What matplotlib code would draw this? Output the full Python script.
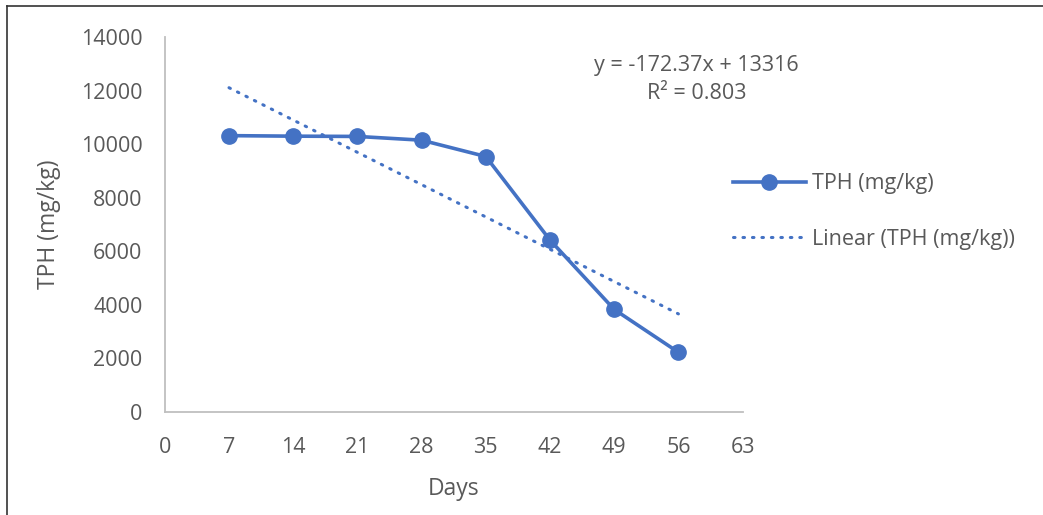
import matplotlib.pyplot as plt
from matplotlib.lines import Line2D
import numpy as np

# TPH readings over the incubation period
days = [7, 14, 21, 28, 35, 42, 49, 56]
tph = [10320, 10300, 10290, 10150, 9540, 6420, 3830, 2230]

# linear trend as reported on the chart
slope = -172.37
intercept = 13316
r_squared = 0.803

x_ticks = [0, 7, 14, 21, 28, 35, 42, 49, 56, 63]
y_ticks = [0, 2000, 4000, 6000, 8000, 10000, 12000, 14000]

blue = '#4472C4'
grey_text = '#595959'
plt.rcParams['font.family'] = ['Open Sans', 'DejaVu Sans']

fig = plt.figure(figsize=(10.43, 5.15), dpi=100)
ax = fig.add_axes([0.158, 0.2, 0.554, 0.728])

ax.plot(days, tph, color=blue, linewidth=2.6, marker='o', markersize=11,
        label='TPH (mg/kg)', zorder=3)

trend_x = np.array([days[0], days[-1]])
trend_y = slope * trend_x + intercept
ax.plot(trend_x, trend_y, color=blue, linewidth=2.2, linestyle=(0, (0.5, 2.6)),
        dash_capstyle='round', label='Linear (TPH (mg/kg))', zorder=2)

ax.set_xlim(0, 63)
ax.set_ylim(0, 14000)
ax.set_xticks(x_ticks)
ax.set_yticks(y_ticks)
ax.tick_params(axis='y', length=0, labelsize=15.5, colors=grey_text, pad=16)
ax.tick_params(axis='x', length=0, labelsize=15.5, colors=grey_text, pad=18)

for side in ['top', 'right']:
    ax.spines[side].set_visible(False)
for side in ['left', 'bottom']:
    ax.spines[side].set_color('#BFBFBF')
    ax.spines[side].set_linewidth(1.3)

ax.set_xlabel('Days', fontsize=16.5, color=grey_text, labelpad=14)
ax.set_ylabel('TPH (mg/kg)', fontsize=16.5, color=grey_text, labelpad=14)

eq = f'y = {slope}x + {intercept}\nR² = {r_squared}'
fig.text(0.668, 0.845, eq, fontsize=15.5, color=grey_text, ha='center',
         va='center', linespacing=1.45)

fig.legend(loc='center left', bbox_to_anchor=(0.684, 0.589), frameon=False,
           fontsize=15.5, labelcolor=grey_text, handlelength=3.4,
           handletextpad=0.3, labelspacing=1.6)

# frame lines along top and left edge
fig.add_artist(Line2D([0.007, 1.0], [0.988, 0.988], color='#333333',
                      linewidth=1.2, transform=fig.transFigure))
fig.add_artist(Line2D([0.007, 0.007], [0.0, 0.988], color='#333333',
                      linewidth=1.2, transform=fig.transFigure))

fig.savefig('out.png', dpi=100)
